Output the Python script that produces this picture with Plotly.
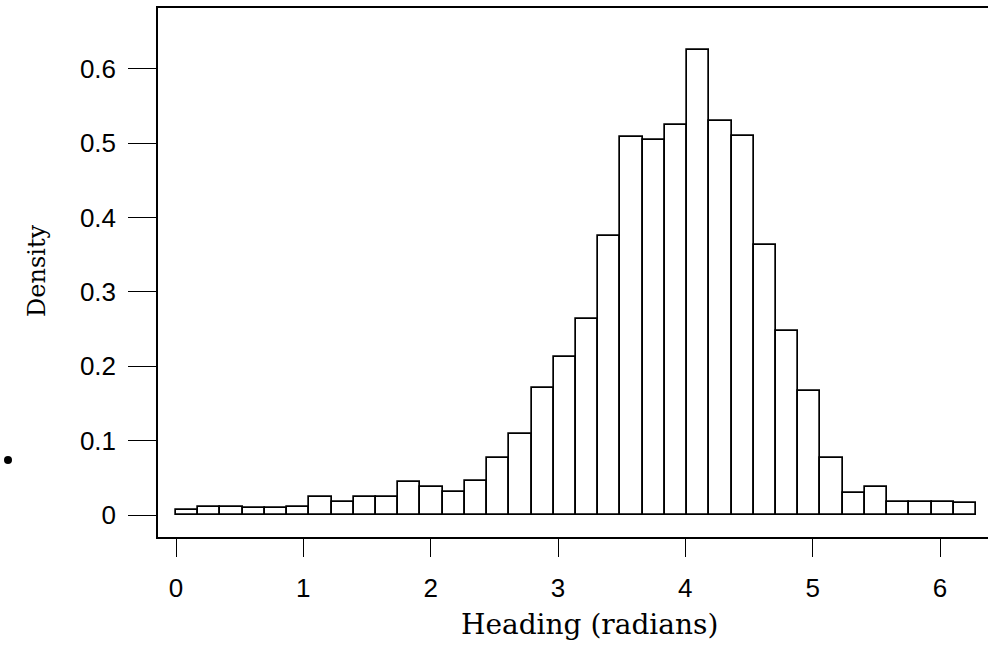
import numpy as np
import plotly.graph_objects as go

# Histogram densities (36 bins spanning 0..2*pi)
densities = [0.007, 0.011, 0.011, 0.009, 0.009, 0.011, 0.024, 0.018, 0.024, 0.024,
             0.044, 0.037, 0.031, 0.046, 0.077, 0.109, 0.171, 0.213, 0.263, 0.375,
             0.508, 0.504, 0.525, 0.626, 0.530, 0.510, 0.363, 0.247, 0.167, 0.077,
             0.029, 0.037, 0.018, 0.018, 0.018, 0.016]
n_bins = len(densities)
edges = np.linspace(0, 2 * np.pi, n_bins + 1)
centers = (edges[:-1] + edges[1:]) / 2
bin_width = edges[1] - edges[0]

x_ticks = [0, 1, 2, 3, 4, 5, 6]
y_ticks = [0, 0.1, 0.2, 0.3, 0.4, 0.5, 0.6]
y_tick_text = ["0", "0.1", "0.2", "0.3", "0.4", "0.5", "0.6"]
x_title = "Heading (radians)"
y_title = "Density"

fig = go.Figure()
fig.add_trace(go.Bar(
    x=centers, y=densities, width=bin_width,
    marker=dict(color="white", line=dict(color="black", width=1.7)),
    hoverinfo="x+y",
))

W, H = 988, 646
ml, mr, mt, mb = 158, 0, 8, 109
pw = W - ml - mr
ph = H - mt - mb

def px_to_paper_x(px):
    return (px - ml) / pw

def px_to_paper_y(py):
    return (H - mb - py) / ph

fig.update_layout(
    width=W, height=H,
    margin=dict(l=ml, r=mr, t=mt, b=mb),
    paper_bgcolor="white", plot_bgcolor="white",
    showlegend=False,
    bargap=0,
    font=dict(family="Liberation Sans, Arial, sans-serif", color="black", size=26),
    xaxis=dict(
        range=[-0.1414, 6.377],
        tickvals=x_ticks, ticktext=[str(v) for v in x_ticks],
        ticks="outside", ticklen=18, tickwidth=1.3, tickcolor="black",
        showline=True, linecolor="black", linewidth=1.5, mirror=True,
        showgrid=False, zeroline=False,
        tickfont=dict(size=26),
        ticklabelstandoff=9,
    ),
    yaxis=dict(
        range=[-0.0296, 0.682],
        tickvals=y_ticks, ticktext=y_tick_text,
        ticks="outside", ticklen=28, tickwidth=1.3, tickcolor="black",
        showline=True, linecolor="black", linewidth=1.5, mirror=False,
        showgrid=False, zeroline=False,
        tickfont=dict(size=26),
        ticklabelstandoff=7,
    ),
)

# axis titles (the source figure is cropped on the right, so the x title sits right of centre)
fig.add_annotation(text=x_title, xref="paper", yref="paper",
                   x=px_to_paper_x(589), y=px_to_paper_y(624),
                   xanchor="center", yanchor="middle", showarrow=False,
                   font=dict(family="DejaVu Serif, serif", size=28, color="black"))
fig.add_annotation(text=y_title, xref="paper", yref="paper",
                   x=px_to_paper_x(37), y=px_to_paper_y(271),
                   xanchor="center", yanchor="middle", showarrow=False, textangle=-90,
                   font=dict(family="DejaVu Serif, serif", size=24, color="black"))

# small stray dot at left edge of the reference image
dot_x, dot_y, r = 8, 460, 4
fig.add_shape(type="circle", xref="paper", yref="paper",
              x0=px_to_paper_x(dot_x - r), x1=px_to_paper_x(dot_x + r),
              y0=px_to_paper_y(dot_y + r), y1=px_to_paper_y(dot_y - r),
              fillcolor="black", line=dict(color="black", width=0))

fig.write_html("out.html")
